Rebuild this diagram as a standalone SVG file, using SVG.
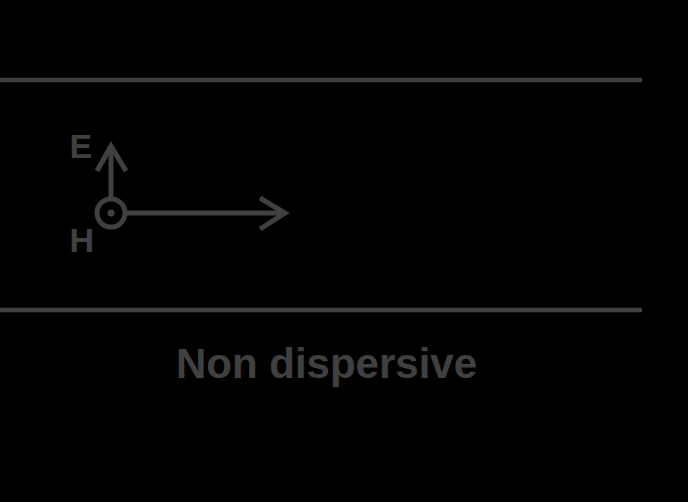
<svg xmlns="http://www.w3.org/2000/svg" width="688" height="502" viewBox="0 0 688 502">
<style>
.ln{stroke:#404040;stroke-width:4.5;fill:none;stroke-linecap:butt}
.ar{stroke:#404040;stroke-width:5;fill:none;stroke-linecap:butt;stroke-linejoin:miter}
.t{font-family:"Liberation Sans",Arial,sans-serif;font-weight:bold;fill:#404040}
</style>
<rect width="688" height="502" fill="#000"/>
<g id="waveguide">
<line class="ln" x1="0" y1="80" x2="642" y2="80"/>
<line class="ln" x1="0" y1="310" x2="642" y2="310"/>
</g>
<g id="connectors">
<line class="ar" x1="111" y1="199" x2="111" y2="146"/>
<polyline class="ar" points="97,171 111,146 126,171"/>
<line class="ar" x1="127" y1="213" x2="284" y2="213"/>
<polyline class="ar" points="260,198 285,213 260,229"/>
</g>
<g id="H-field">
<circle cx="111" cy="213" r="14" class="ar"/>
<circle cx="111" cy="213" r="3.5" fill="#404040"/>
</g>
<g id="labels">
<text class="t" x="69.5" y="158" font-size="34">E</text>
<text class="t" x="69.5" y="251.5" font-size="34">H</text>
<text class="t" x="326.5" y="378" font-size="42" text-anchor="middle">Non dispersive</text>
</g>
</svg>
